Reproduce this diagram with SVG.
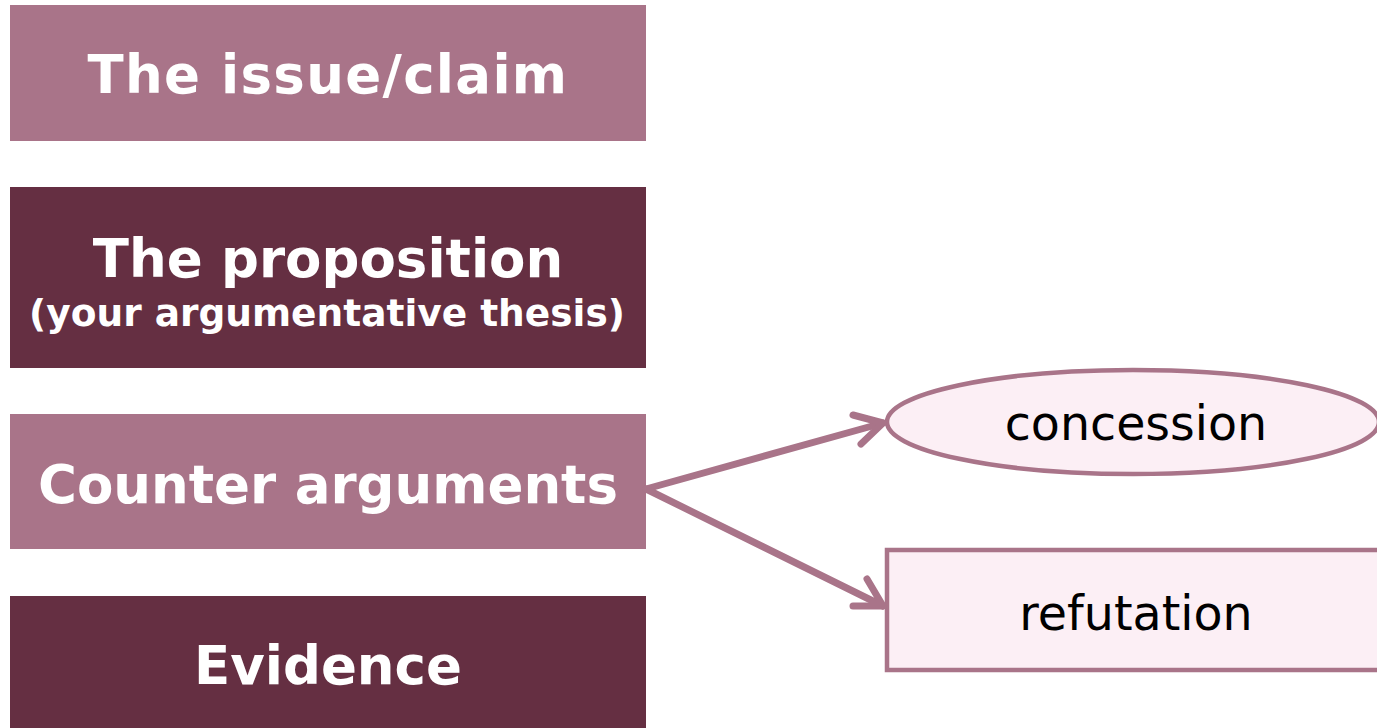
<svg xmlns="http://www.w3.org/2000/svg" width="1377" height="728" viewBox="0 0 1377 728">
<defs>
<style>
.light{fill:#A97489}
.dark{fill:#652F42}
.bt{font-family:"DejaVu Sans",Verdana,sans-serif;font-weight:bold;fill:#fff;text-anchor:middle}
.nt{font-family:"DejaVu Sans",Verdana,sans-serif;fill:#000;text-anchor:middle;font-size:47.5px}
.sh{fill:#FCEFF5;stroke:#A97489;stroke-width:4.5}
.conn{stroke:#A97489;stroke-width:7;fill:none;stroke-linecap:round;stroke-linejoin:round}
</style>
</defs>
<rect width="1377" height="728" fill="#fff"/>
<g id="issue"><rect class="light" x="10" y="5" width="636" height="136"/><text class="bt" x="328" y="93" font-size="53" letter-spacing="1.3">The issue/claim</text></g>
<g id="proposition"><rect class="dark" x="10" y="187" width="636" height="181"/><text class="bt" x="328" y="277" font-size="53">The proposition</text><text class="bt" x="327" y="326" font-size="37.5">(your argumentative thesis)</text></g>
<g id="counter"><rect class="light" x="10" y="414" width="636" height="135"/><text class="bt" x="328" y="503" font-size="53">Counter arguments</text></g>
<g id="evidence"><rect class="dark" x="10" y="596" width="636" height="132"/><text class="bt" x="328" y="684" font-size="53">Evidence</text></g>
<g id="concession"><ellipse class="sh" cx="1133" cy="422" rx="246" ry="52"/><text class="nt" x="1136" y="440">concession</text></g>
<g id="refutation"><rect class="sh" x="887" y="550" width="494" height="120"/><text class="nt" x="1136" y="630">refutation</text></g>
<g id="connectors">
<path class="conn" d="M646,489 L883,423"/>
<path class="conn" d="M853,415 L883,423 L861,444"/>
<path class="conn" d="M646,489 L883,606"/>
<path class="conn" d="M867,579 L883,606 L853,606"/>
</g>
</svg>
